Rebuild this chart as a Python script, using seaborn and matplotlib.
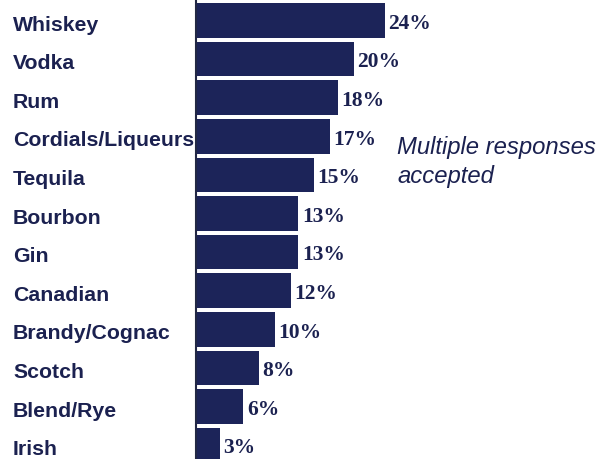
import matplotlib
matplotlib.use("Agg")
import matplotlib.pyplot as plt
import seaborn as sns
import pandas as pd

categories = ["Whiskey", "Vodka", "Rum", "Cordials/Liqueurs", "Tequila", "Bourbon",
              "Gin", "Canadian", "Brandy/Cognac", "Scotch", "Blend/Rye", "Irish"]
values = [24, 20, 18, 17, 15, 13, 13, 12, 10, 8, 6, 3]
value_labels = ["24%", "20%", "18%", "17%", "15%", "13%", "13%", "12%", "10%", "8%", "6%", "3%"]
note = "Multiple responses\naccepted"

navy = "#1c2459"
text_navy = "#1b2150"

sns.set_theme(style="white")
df = pd.DataFrame({"cat": categories, "val": values})

fig = plt.figure(figsize=(6.1, 4.6), dpi=100)
ax = fig.add_axes([196 / 610, 0, 1 - 196 / 610, 1])
sns.barplot(data=df, x="val", y="cat", orient="h", color=navy, saturation=1,
            width=0.9, ax=ax, edgecolor="none")

ax.set_xlim(0, 414 / 7.875)
ax.set_ylim(11.36, -0.557)
ax.set_xlabel("")
ax.set_ylabel("")
ax.set_xticks([])
ax.set_yticks([])
for s in ["top", "right", "bottom"]:
    ax.spines[s].set_visible(False)
ax.spines["left"].set_color("#222844")
ax.spines["left"].set_linewidth(1.5)
ax.set_facecolor("white")

for i, (v, lab) in enumerate(zip(values, value_labels)):
    ax.text(v + 0.45, i + 0.06, lab, ha="left", va="center", fontsize=15.5,
            fontweight="bold", family="Liberation Serif", color=text_navy)

for i, c in enumerate(categories):
    y_fig = ax.transData.transform((0, i))[1]
    fig.text(13 / 610, (y_fig - 3.5) / 460, c, ha="left", va="center", fontsize=15.3,
             fontweight="bold", family="Liberation Sans", color=text_navy,
             transform=fig.transFigure)

fig.text(397 / 610, 1 - 162 / 460, note, ha="left", va="center", fontsize=17.2,
         style="italic", family="Liberation Sans", color=text_navy, linespacing=1.32)

fig.savefig("out.png", dpi=100, facecolor="white")
